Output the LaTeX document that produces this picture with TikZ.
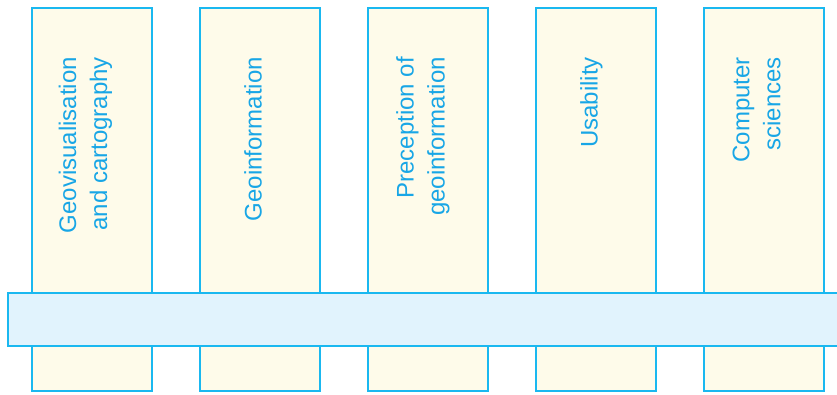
\documentclass[tikz,border=0pt]{standalone}
\usepackage{fontspec}
\setmainfont{Liberation Sans}
\definecolor{bordblue}{HTML}{1AB8F0}
\definecolor{txtblue}{HTML}{18A6E6}
\definecolor{colfill}{HTML}{FEFBEA}
\definecolor{bandfill}{HTML}{E1F3FD}
\begin{document}
\begin{tikzpicture}[x=1pt,y=-1pt,
  colbox/.style={draw=bordblue,fill=colfill,line width=1.7pt,minimum width=120pt,minimum height=383pt,inner sep=0pt},
  bandbox/.style={draw=bordblue,fill=bandfill,line width=1.7pt,minimum width=840pt,minimum height=53pt,inner sep=0pt},
  lbl/.style={text=txtblue,rotate=90,anchor=east,align=right,inner sep=0pt,font=\fontsize{24}{31}\selectfont}]
\useasboundingbox (0,0) rectangle (837,395);
\node[colbox] (c1) at (92,199.5) {};
\node[colbox] (c2) at (260,199.5) {};
\node[colbox] (c3) at (428,199.5) {};
\node[colbox] (c4) at (596,199.5) {};
\node[colbox] (c5) at (764,199.5) {};
\node[bandbox] (band) at (428,319.5) {};
\node[lbl] (t1) at (85.5,57) {Geovisualisation\\and cartography};
\node[lbl] (t2) at (253,57) {Geoinformation};
\node[lbl] (t3) at (423,57) {Preception of\\geoinformation};
\node[lbl] (t4) at (591.5,57) {Usability};
\node[lbl] (t5) at (756.5,57) {Computer\\sciences};
\end{tikzpicture}
\end{document}
